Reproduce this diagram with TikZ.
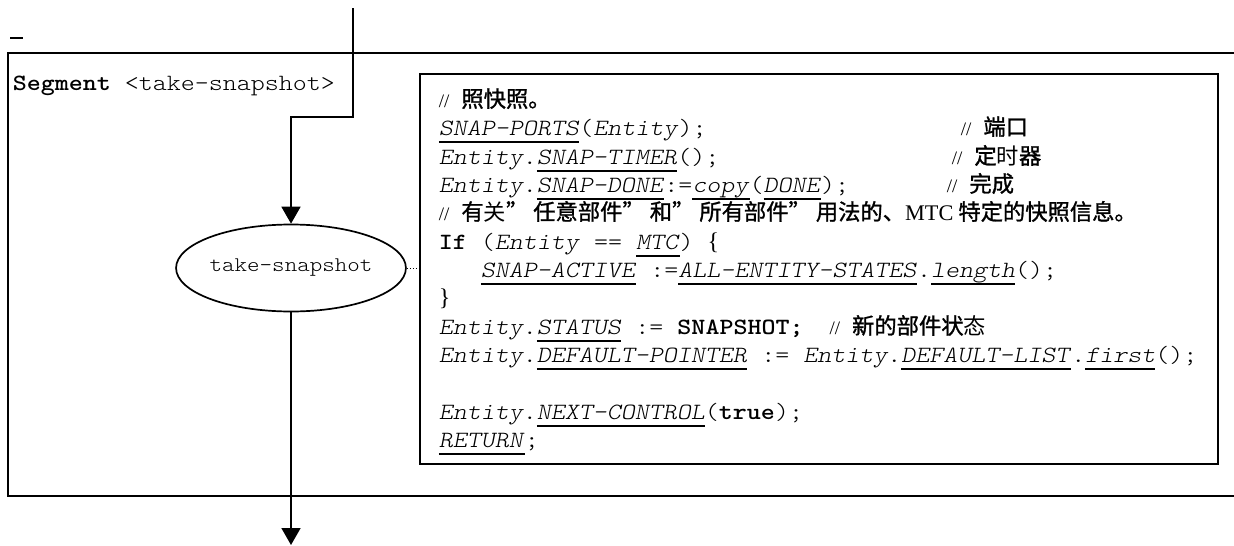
\documentclass[tikz,border=0pt]{standalone}
\usepackage{fontspec}
\setmonofont{lmmonolt10-regular.otf}[ItalicFont=lmmonolt10-oblique.otf,BoldFont=lmmonolt10-bold.otf,FakeStretch=1.145]
\newfontfamily\cjk[FakeBold=1.2]{Noto Sans CJK SC}
\newfontfamily\cjkl{Noto Sans CJK SC}
\newfontfamily\serif{Liberation Serif}
\usetikzlibrary{arrows.meta,shapes.geometric}
\newsavebox\ulbox
\newcommand\ulx[1]{\sbox\ulbox{#1}\rlap{\rule[-8pt]{\wd\ulbox}{1.6pt}}\usebox\ulbox}
\newcommand\cm{{\serif\fontsize{19}{19}\selectfont //}\hspace{12pt}}
\newcommand\En{\textit{Entity}}
\newcommand\ui[1]{\ulx{\textit{#1}}}
\newcommand\zh{\cjk\fontsize{22.3}{26}\selectfont}
\newcommand\zhl{\cjkl\fontsize{22.3}{26}\selectfont}
\newcommand\brc[1]{{\serif\fontsize{24}{24}\selectfont #1}}
\begin{document}
\begin{tikzpicture}[x=1pt,y=-1pt,line width=1.7pt,
  code/.style={anchor=base west,inner sep=0pt,font=\ttfamily\fontsize{23.3}{28}\selectfont},
  cmt/.style={anchor=base west,inner sep=0pt,font=\zh},
  flow/.style={-{Triangle[width=19pt,length=17pt]}},
  state/.style={ellipse,draw,minimum width=218pt,minimum height=87pt,inner sep=0pt,font=\ttfamily\fontsize{20.8}{24}\selectfont}]
\useasboundingbox (0,0) rectangle (1234,546);
% stray dash
\draw[line width=1.8pt] (10,38) -- (23,38);
% frame
\draw (1234,53) -- (8,53) -- (8,496) -- (1234,496);
\node[code] (seg) at (12,90) {\textbf{Segment} <take-snapshot>};
% flow
\coordinate (in) at (353,8);
\coordinate (b1) at (353,117);
\coordinate (b2) at (291,117);
\node[state] (snap) at (291,268) {take-snapshot};
\coordinate (out) at (291,545);
\draw[flow] (in) -- (b1) -- (b2) -- (snap.north);
\draw[flow] (snap.south) -- (out);
% code box
\node[draw,minimum width=798pt,minimum height=390pt,inner sep=0pt,anchor=north west] (codebox) at (419,73) {};
\draw[dotted,line width=1pt] (snap.east) -- (snap.east -| codebox.west);
% code lines
\node[cmt] (l1) at (438,107) {\cm 照快照。};
\node[code] (l2) at (438,135) {\ui{SNAP-PORTS}(\En);};
\node[cmt] (c2) at (960,135) {\cm 端口};
\node[code] (l3) at (438,164) {\En.\ui{SNAP-TIMER}();};
\node[cmt] (c3) at (951,164) {\cm 定{\zhl 时}器};
\node[code] (l4) at (438,192) {\En.\ui{SNAP-DONE}:=\ui{copy}(\ui{DONE});};
\node[cmt] (c4) at (946,192) {\cm 完成};
\node[cmt] (l5) at (438,220) {\cm 有{\zhl 关}” 任意部件” 和” 所有部件” 用法的、{\serif MTC} 特定的快照信息。};
\node[code] (l6) at (438,249) {\textbf{If} (\En\ == \ui{MTC}) \brc{\{}};
\node[code] (l7) at (438,277) {\ \ \ \ui{SNAP-ACTIVE} :=\ui{ALL-ENTITY-STATES}.\ui{length}();};
\node[code] (l8) at (438,305) {\brc{\}}};
\node[code] (l9) at (438,334) {\En.\ui{STATUS} := \textbf{SNAPSHOT;}\hspace{26pt}\cm{\zh 新的部件状{\zhl 态}}};
\node[code] (l10) at (438,362) {\En.\ui{DEFAULT-POINTER} := \En.\ui{DEFAULT-LIST}.\ui{first}();};
\node[code] (l12) at (438,419) {\En.\ui{NEXT-CONTROL}(\textbf{true});};
\node[code] (l13) at (438,447) {\ui{RETURN};};
\end{tikzpicture}
\end{document}
